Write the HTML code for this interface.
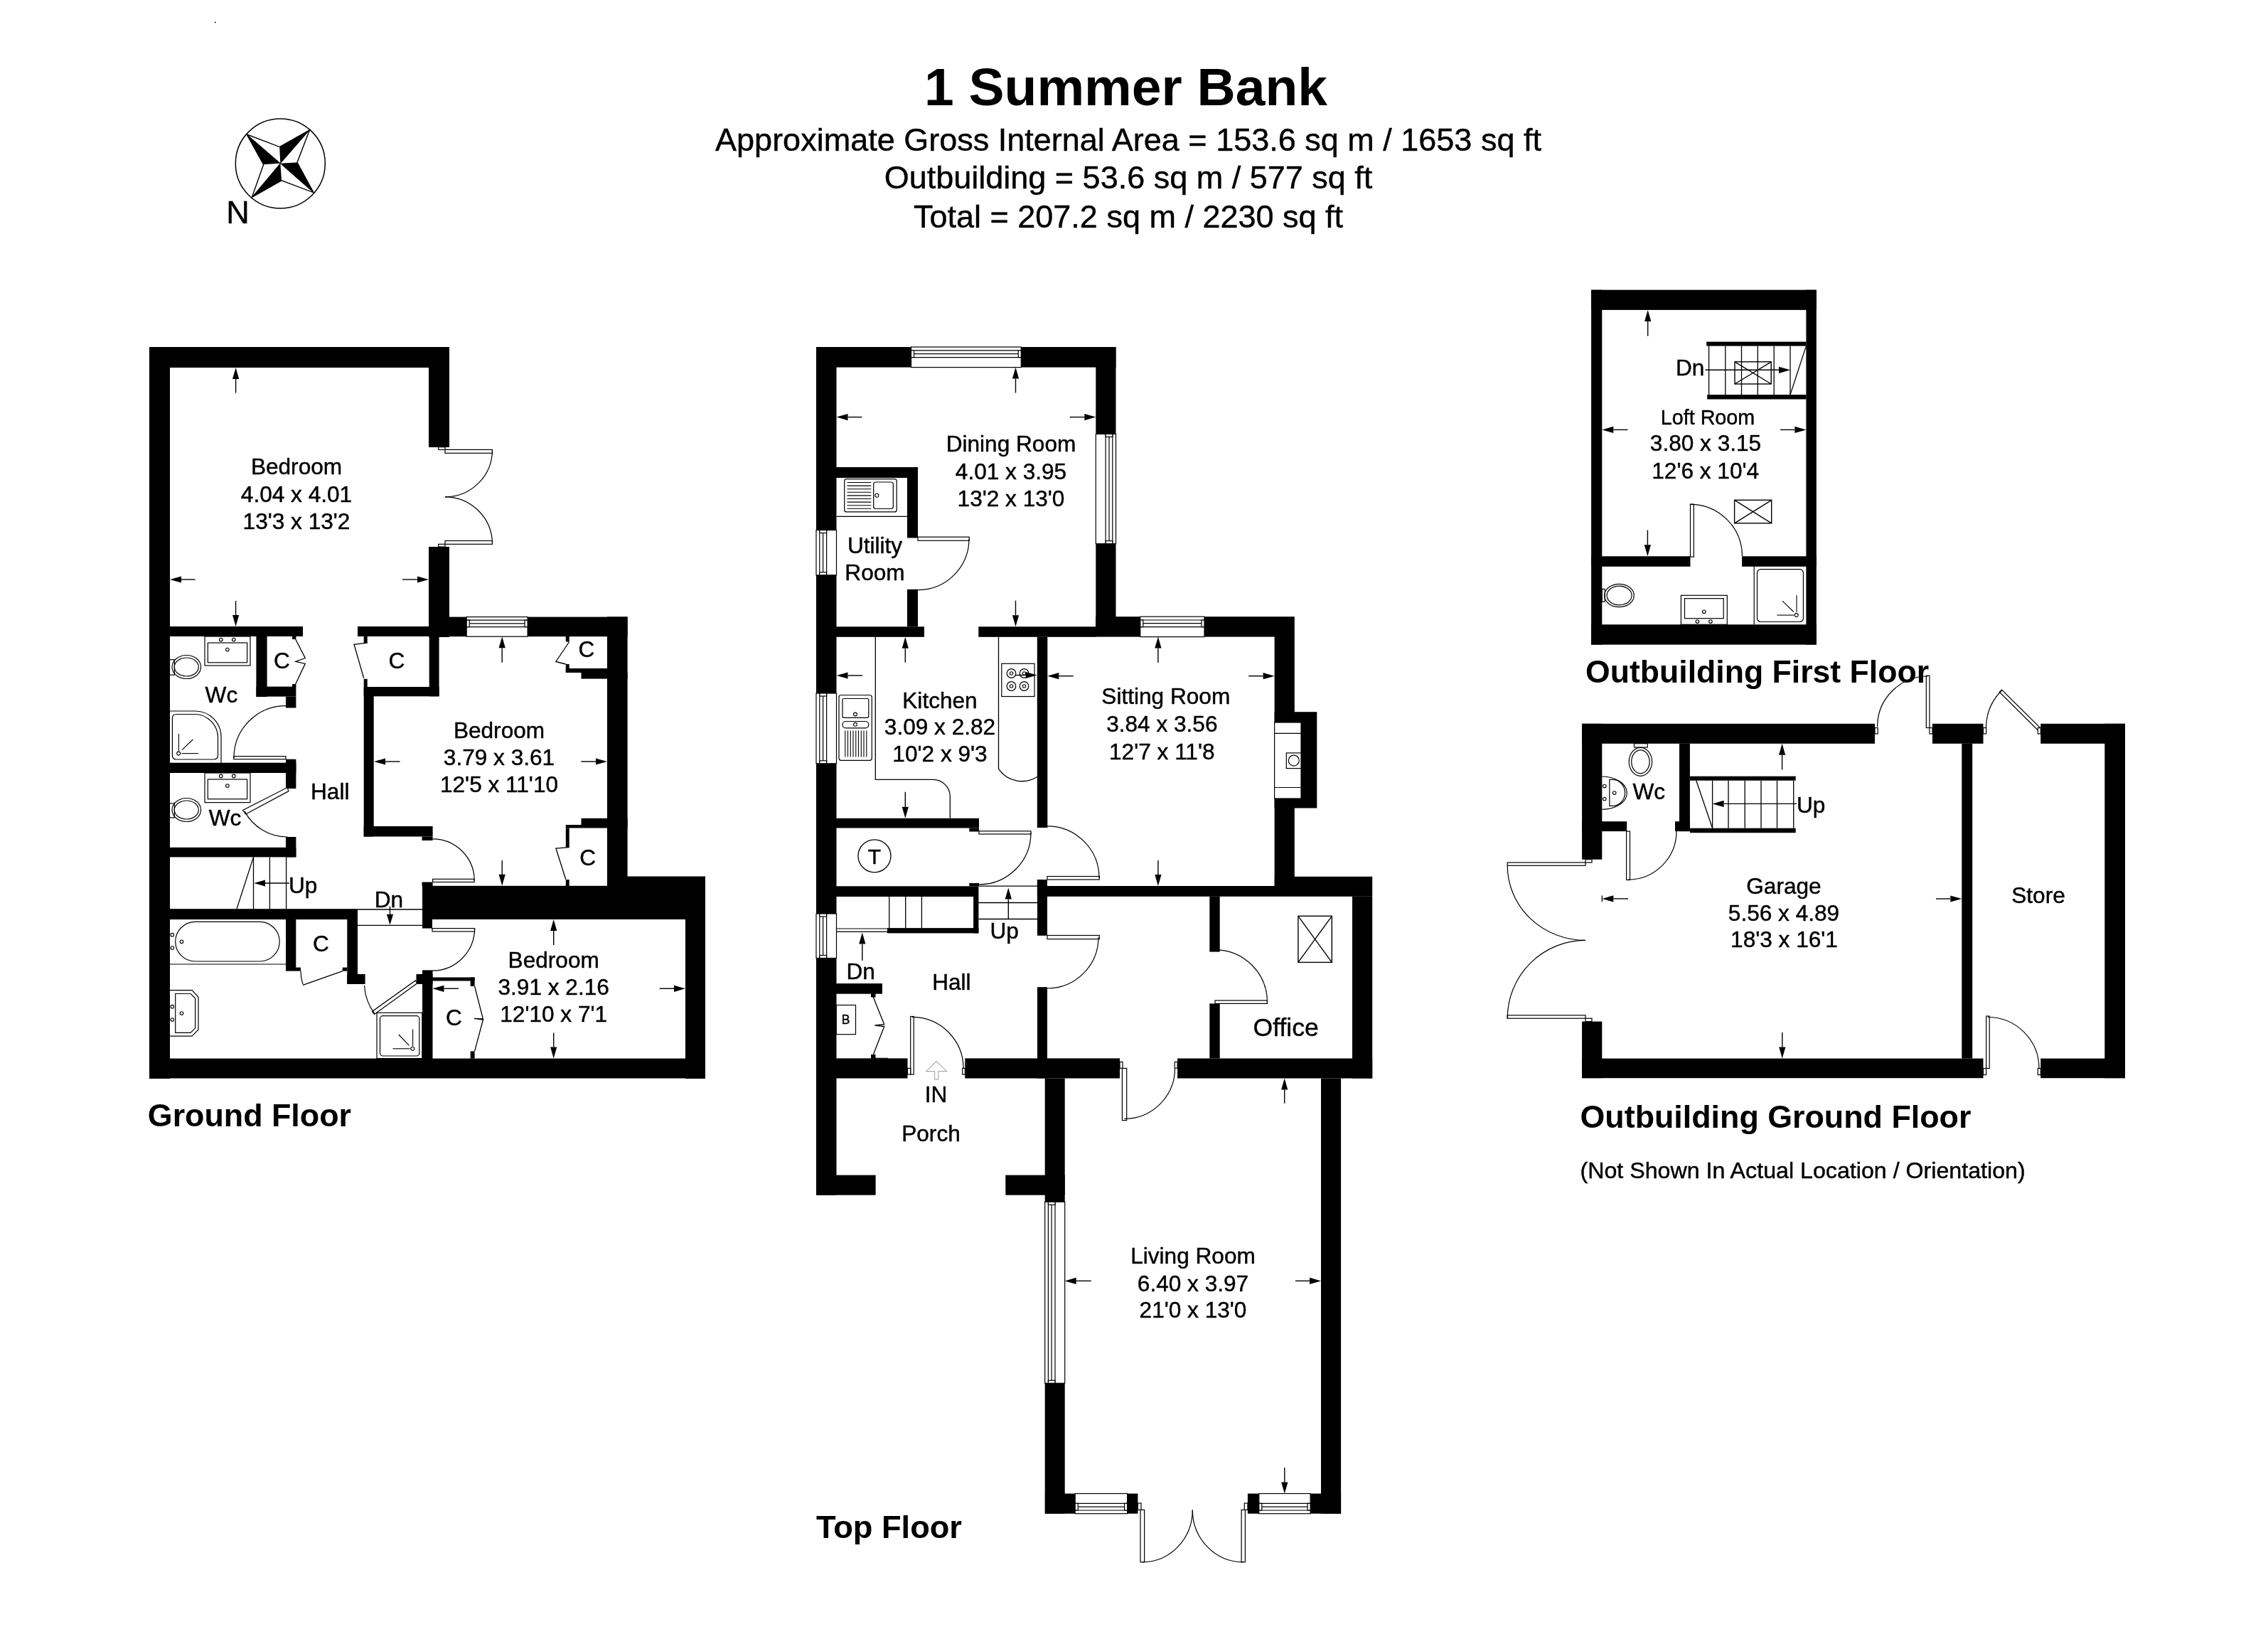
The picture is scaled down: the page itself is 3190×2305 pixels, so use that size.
<!DOCTYPE html>
<html><head><meta charset="utf-8"><title>1 Summer Bank</title>
<style>
html,body{margin:0;padding:0;background:#fff;width:3190px;height:2305px;overflow:hidden}
svg{display:block;will-change:transform}
text{font-family:"Liberation Sans",sans-serif}
</style></head><body>
<svg width="3190" height="2305" viewBox="0 0 3190 2305">
<rect x="0" y="0" width="3190" height="2305" fill="#fff"/>
<text x="1583.5" y="148" font-size="75" text-anchor="middle" font-weight="bold" fill="#000">1 Summer Bank</text>
<text x="1587" y="212" font-size="45" text-anchor="middle" stroke="#000" stroke-width="0.45" fill="#000">Approximate Gross Internal Area = 153.6 sq m / 1653 sq ft</text>
<text x="1587" y="265" font-size="45" text-anchor="middle" stroke="#000" stroke-width="0.45" fill="#000">Outbuilding = 53.6 sq m / 577 sq ft</text>
<text x="1587" y="320" font-size="45" text-anchor="middle" stroke="#000" stroke-width="0.45" fill="#000">Total = 207.2 sq m / 2230 sq ft</text>
<rect x="302" y="30.5" width="1.5" height="1.8" fill="#000"/>
<circle cx="394.3" cy="229.9" r="63" fill="none" stroke="#000" stroke-width="1.5"/>
<path d="M347.1,189 L394.3,229.8 L370.7,231.3 Z" fill="#000"/>
<path d="M435.5,182.7 L393.2,206.6 L394.3,229.8 Z" fill="#000"/>
<path d="M441,270.8 L418,228.5 L394.3,229.8 Z" fill="#000"/>
<path d="M354.3,277.4 L396,253.8 L394.3,229.8 Z" fill="#000"/>
<path d="M347.1,189 L393.2,206.6 L435.5,182.7 L418,228.5 L441,270.8 L396,253.8 L354.3,277.4 L370.7,231.3 Z" fill="none" stroke="#000" stroke-width="1.4"/>
<line x1="347.1" y1="189" x2="394.3" y2="229.8" stroke="#000" stroke-width="1"/>
<line x1="435.5" y1="182.7" x2="394.3" y2="229.8" stroke="#000" stroke-width="1"/>
<line x1="441" y1="270.8" x2="394.3" y2="229.8" stroke="#000" stroke-width="1"/>
<line x1="354.3" y1="277.4" x2="394.3" y2="229.8" stroke="#000" stroke-width="1"/>
<text x="318.3" y="313.6" font-size="45" text-anchor="start" stroke="#000" stroke-width="0.45" fill="#000">N</text>
<rect x="210" y="488" width="422" height="29" fill="#000"/>
<rect x="210" y="488" width="29" height="1029" fill="#000"/>
<rect x="603" y="488" width="29" height="141" fill="#000"/>
<rect x="603" y="769" width="29" height="127" fill="#000"/>
<rect x="210" y="881" width="216" height="14" fill="#000"/>
<rect x="503" y="881" width="154" height="14" fill="#000"/>
<rect x="603" y="867.6" width="279.6" height="27.6" fill="#000"/>
<rect x="656.2" y="867.6" width="85.9" height="27.6" fill="#fff"/>
<rect x="656.2" y="867.6" width="85.9" height="27.6" fill="#fff" stroke="#000" stroke-width="1.2"/>
<line x1="656.2" y1="872.2" x2="742.1" y2="872.2" stroke="#000" stroke-width="1.2"/>
<line x1="660.2" y1="876.9" x2="738.1" y2="876.9" stroke="#000" stroke-width="1.2"/>
<line x1="656.2" y1="881.7" x2="742.1" y2="881.7" stroke="#000" stroke-width="1.2"/>
<rect x="656.2" y="872.2" width="4" height="9.5" fill="#fff" stroke="#000" stroke-width="1.2"/>
<rect x="738.1" y="872.2" width="4" height="9.5" fill="#fff" stroke="#000" stroke-width="1.2"/>
<rect x="854" y="867.4" width="28.6" height="378.6" fill="#000"/>
<rect x="594" y="1245.8" width="398" height="47.2" fill="#000"/>
<rect x="854" y="1232.5" width="138" height="13.5" fill="#000"/>
<rect x="964" y="1293" width="28" height="224" fill="#000"/>
<rect x="210" y="1488.6" width="782" height="27.9" fill="#000"/>
<rect x="360.4" y="895" width="15.2" height="85" fill="#000"/>
<rect x="360.4" y="965.6" width="56" height="14" fill="#000"/>
<rect x="411" y="895" width="5.4" height="4" fill="#000"/>
<rect x="411" y="962" width="5.4" height="4" fill="#000"/>
<rect x="402" y="979.6" width="14.4" height="15.9" fill="#000"/>
<rect x="402" y="1067.7" width="14.4" height="41.3" fill="#000"/>
<rect x="210" y="1072.7" width="206.4" height="14.3" fill="#000"/>
<rect x="402" y="1177" width="14.4" height="28.4" fill="#000"/>
<rect x="210" y="1191.8" width="206.4" height="13.6" fill="#000"/>
<rect x="210" y="1278.2" width="293" height="14.9" fill="#000"/>
<rect x="402" y="1293" width="14.3" height="72.6" fill="#000"/>
<rect x="416" y="1360.6" width="7" height="5" fill="#000"/>
<rect x="488.3" y="1293" width="14.7" height="91" fill="#000"/>
<rect x="488.3" y="1370" width="25.3" height="14" fill="#000"/>
<rect x="481.7" y="1360.6" width="6.6" height="5" fill="#000"/>
<rect x="511.7" y="895" width="5" height="9" fill="#000"/>
<rect x="511.7" y="954.8" width="5" height="11.2" fill="#000"/>
<rect x="511.7" y="966" width="14" height="210.5" fill="#000"/>
<rect x="511.7" y="966" width="105.9" height="13.3" fill="#000"/>
<rect x="603.7" y="895" width="13.9" height="84.3" fill="#000"/>
<rect x="511.7" y="1162" width="96.9" height="14.5" fill="#000"/>
<rect x="593.5" y="1176.5" width="15.1" height="5.5" fill="#000"/>
<rect x="593.5" y="1240.5" width="15.1" height="5.5" fill="#000"/>
<rect x="594" y="1292.8" width="14" height="12.8" fill="#000"/>
<rect x="594" y="1364.4" width="14.5" height="124.6" fill="#000"/>
<rect x="585.5" y="1370" width="23" height="14" fill="#000"/>
<rect x="594" y="1374.5" width="73.6" height="5" fill="#000"/>
<rect x="661.7" y="1374.5" width="5.9" height="12.5" fill="#000"/>
<rect x="661.7" y="1478.4" width="5.9" height="10.2" fill="#000"/>
<rect x="795.8" y="940" width="58.2" height="6" fill="#000"/>
<rect x="817.5" y="945.4" width="65.1" height="9.2" fill="#000"/>
<rect x="795.8" y="934" width="4.9" height="12" fill="#000"/>
<rect x="795.8" y="895" width="4.9" height="7.5" fill="#000"/>
<rect x="817.5" y="1150.8" width="65.1" height="9.2" fill="#000"/>
<rect x="795.8" y="1160" width="86.8" height="4.5" fill="#000"/>
<rect x="795.8" y="1164.5" width="4.9" height="27.2" fill="#000"/>
<rect x="795.8" y="1237" width="4.9" height="9" fill="#000"/>
<line x1="356.5" y1="1205.4" x2="356.5" y2="1278.2" stroke="#000" stroke-width="1.3"/>
<line x1="379.4" y1="1205.4" x2="379.4" y2="1278.2" stroke="#000" stroke-width="1.3"/>
<line x1="402.6" y1="1205.4" x2="402.6" y2="1278.2" stroke="#000" stroke-width="1.3"/>
<line x1="356.5" y1="1205.4" x2="333" y2="1278.2" stroke="#000" stroke-width="1.3"/>
<line x1="407" y1="1242" x2="373" y2="1242" stroke="#000" stroke-width="1.4"/>
<path d="M357,1242 L373,1237.4 L373,1246.6 Z" fill="#000"/>
<text x="406" y="1255.8" font-size="31.6" text-anchor="start" stroke="#000" stroke-width="0.45" fill="#000">Up</text>
<line x1="503" y1="1279" x2="594" y2="1279" stroke="#000" stroke-width="1.3"/>
<line x1="503" y1="1301.3" x2="594" y2="1301.3" stroke="#000" stroke-width="1.3"/>
<line x1="548.5" y1="1274.5" x2="548.5" y2="1285.8" stroke="#000" stroke-width="1.4"/>
<path d="M548.5,1300.8 L543.9,1285.8 L553.1,1285.8 Z" fill="#000"/>
<text x="526.8" y="1275.6" font-size="31.6" text-anchor="start" stroke="#000" stroke-width="0.45" fill="#000">Dn</text>
<rect x="616.7" y="628.7" width="9.3" height="3.7" fill="#fff" stroke="#000" stroke-width="1.2"/>
<rect x="626" y="632.4" width="66.5" height="4.9" fill="#fff" stroke="#000" stroke-width="1.2"/>
<path d="M692.5,632.4 A66.5,66.5 0 0 1 626,698.9" fill="none" stroke="#000" stroke-width="1.2"/>
<rect x="626" y="760.5" width="66.5" height="4.8" fill="#fff" stroke="#000" stroke-width="1.2"/>
<rect x="616.7" y="765.3" width="9.3" height="3.7" fill="#fff" stroke="#000" stroke-width="1.2"/>
<path d="M692.5,765.3 A66.5,66.5 0 0 0 626,698.8" fill="none" stroke="#000" stroke-width="1.2"/>
<rect x="328.8" y="1063.6" width="73.2" height="4.1" fill="#fff" stroke="#000" stroke-width="1.2"/>
<path d="M329,1065.6 A73,73 0 0 1 402,992.6" fill="none" stroke="#000" stroke-width="1.2"/>
<path d="M404,1107.5 L406,1112.6 L345.5,1145 L341.5,1139.5 Z" fill="#fff" stroke="#000" stroke-width="1.2"/>
<path d="M344,1140.9 A68,68 0 0 0 404,1177" fill="none" stroke="#000" stroke-width="1.2"/>
<path d="M415.7,899 L429.3,925.5 L415.7,930.4 L429.3,933.4 L415.7,962" fill="none" stroke="#000" stroke-width="1.3"/>
<path d="M516.7,904 L498,906.3 L511.7,953.7" fill="none" stroke="#000" stroke-width="1.3"/>
<rect x="608.6" y="1236.3" width="58.6" height="4.2" fill="#fff" stroke="#000" stroke-width="1.2"/>
<path d="M667.2,1238.4 A58.6,58.6 0 0 0 608.6,1179.8" fill="none" stroke="#000" stroke-width="1.2"/>
<rect x="608" y="1305.6" width="59.6" height="4.4" fill="#fff" stroke="#000" stroke-width="1.2"/>
<path d="M667.6,1305.6 A59.6,59.6 0 0 1 608,1365.2" fill="none" stroke="#000" stroke-width="1.2"/>
<path d="M423,1365.6 A59,59 0 0 0 426,1384.3" fill="none" stroke="#000" stroke-width="1.2"/>
<line x1="426" y1="1385.4" x2="482" y2="1365.6" stroke="#000" stroke-width="1.4"/>
<path d="M584.3,1379 L586.5,1383 L526.5,1426.5 L523.5,1422.5 Z" fill="#fff" stroke="#000" stroke-width="1.2"/>
<path d="M512.5,1385.8 A73,73 0 0 0 527.1,1425.9" fill="none" stroke="#000" stroke-width="1.2"/>
<path d="M667.6,1387 L679.4,1433 L667,1432.4 L679.4,1434.2 L667.6,1478.4" fill="none" stroke="#000" stroke-width="1.3"/>
<path d="M800.7,902.5 L781.9,930.5 L795.8,934" fill="none" stroke="#000" stroke-width="1.3"/>
<path d="M800.7,1191.7 L781.9,1193 L795.8,1236.8" fill="none" stroke="#000" stroke-width="1.3"/>
<rect x="288" y="895" width="64" height="41" fill="#fff" stroke="#000" stroke-width="1.2"/>
<rect x="292.3" y="904" width="55.3" height="27.8" fill="#fff" stroke="#000" stroke-width="1.2"/>
<circle cx="310.8" cy="899.5" r="2.3" fill="none" stroke="#000" stroke-width="1.1"/>
<circle cx="328.8" cy="899.5" r="2.3" fill="none" stroke="#000" stroke-width="1.1"/>
<circle cx="319.8" cy="913.5" r="2.3" fill="none" stroke="#000" stroke-width="1.1"/>
<rect x="238.5" y="927.7" width="6.8" height="21.5" fill="#fff" stroke="#000" stroke-width="1.2"/>
<ellipse cx="262.3" cy="938" rx="20.3" ry="16.5" fill="none" stroke="#000" stroke-width="1.2"/>
<ellipse cx="262.3" cy="938" rx="17" ry="13" fill="none" stroke="#000" stroke-width="1.2"/>
<rect x="288" y="1087" width="64" height="41.6" fill="#fff" stroke="#000" stroke-width="1.2"/>
<rect x="292.3" y="1096" width="55.3" height="27.7" fill="#fff" stroke="#000" stroke-width="1.2"/>
<circle cx="310.8" cy="1091.4" r="2.3" fill="none" stroke="#000" stroke-width="1.1"/>
<circle cx="328.8" cy="1091.4" r="2.3" fill="none" stroke="#000" stroke-width="1.1"/>
<circle cx="319.8" cy="1105" r="2.3" fill="none" stroke="#000" stroke-width="1.1"/>
<rect x="238.5" y="1129.8" width="6.8" height="20.2" fill="#fff" stroke="#000" stroke-width="1.2"/>
<ellipse cx="262.3" cy="1139" rx="20.3" ry="16.5" fill="none" stroke="#000" stroke-width="1.2"/>
<ellipse cx="262.3" cy="1139" rx="17" ry="13" fill="none" stroke="#000" stroke-width="1.2"/>
<path d="M238.5,1000 H274.7 A36.3,36.3 0 0 1 311,1036.3 V1072.7" fill="none" stroke="#000" stroke-width="1.2"/>
<path d="M248,1004.5 H273.5 A33,33 0 0 1 306.5,1037.5 V1062 Q306.5,1068 300.5,1068 H248 Q242.4,1068 242.4,1062 V1010 Q242.4,1004.5 248,1004.5 Z" fill="none" stroke="#000" stroke-width="1.2"/>
<circle cx="251.2" cy="1059.6" r="2.5" fill="none" stroke="#000" stroke-width="1.1"/>
<line x1="251.4" y1="1032" x2="251.4" y2="1056.4" stroke="#000" stroke-width="1.1"/>
<line x1="255.5" y1="1059.6" x2="279.2" y2="1059.6" stroke="#000" stroke-width="1.1"/>
<line x1="256" y1="1054.6" x2="271.3" y2="1040" stroke="#000" stroke-width="1.1"/>
<rect x="246.7" y="1296.4" width="146.5" height="55.6" rx="28" fill="#fff" stroke="#000" stroke-width="1.2"/>
<line x1="238.5" y1="1356" x2="402" y2="1356" stroke="#000" stroke-width="1.2"/>
<circle cx="242.3" cy="1314.7" r="2.3" fill="none" stroke="#000" stroke-width="1.1"/>
<circle cx="242.3" cy="1333" r="2.3" fill="none" stroke="#000" stroke-width="1.1"/>
<circle cx="255.5" cy="1324.3" r="2.3" fill="none" stroke="#000" stroke-width="1.1"/>
<path d="M238.8,1392.6 L270,1392.6 L279,1402.3 L279,1448 L270,1457.2 L238.8,1457.2" fill="none" stroke="#000" stroke-width="1.2"/>
<path d="M246.7,1397.5 L268,1397.5 L274.6,1404 L274.6,1445.8 L268,1452.4 L246.7,1452.4 Z" fill="none" stroke="#000" stroke-width="1.2"/>
<circle cx="242.3" cy="1415.7" r="2.3" fill="none" stroke="#000" stroke-width="1.1"/>
<circle cx="242.3" cy="1434" r="2.3" fill="none" stroke="#000" stroke-width="1.1"/>
<circle cx="255.5" cy="1425" r="2.3" fill="none" stroke="#000" stroke-width="1.1"/>
<rect x="530" y="1424.3" width="63.8" height="64.3" fill="#fff" stroke="#000" stroke-width="1.2"/>
<rect x="534.5" y="1428.7" width="55.3" height="56.3" rx="4" fill="#fff" stroke="#000" stroke-width="1.2"/>
<circle cx="580.3" cy="1474.8" r="2.5" fill="none" stroke="#000" stroke-width="1.1"/>
<line x1="580.6" y1="1447.6" x2="580.6" y2="1471" stroke="#000" stroke-width="1.1"/>
<line x1="552.5" y1="1474.8" x2="576.6" y2="1474.8" stroke="#000" stroke-width="1.1"/>
<line x1="560.8" y1="1455" x2="575.5" y2="1470.4" stroke="#000" stroke-width="1.1"/>
<line x1="331.6" y1="552.6" x2="331.6" y2="533" stroke="#000" stroke-width="1.4"/>
<path d="M331.6,517 L336.2,533 L327,533 Z" fill="#000"/>
<line x1="274.5" y1="815" x2="255" y2="815" stroke="#000" stroke-width="1.4"/>
<path d="M239,815 L255,810.4 L255,819.6 Z" fill="#000"/>
<line x1="566" y1="815" x2="587" y2="815" stroke="#000" stroke-width="1.4"/>
<path d="M603,815 L587,819.6 L587,810.4 Z" fill="#000"/>
<line x1="331.6" y1="845" x2="331.6" y2="865" stroke="#000" stroke-width="1.4"/>
<path d="M331.6,881 L327,865 L336.2,865 Z" fill="#000"/>
<line x1="562.5" y1="1071" x2="542" y2="1071" stroke="#000" stroke-width="1.4"/>
<path d="M526,1071 L542,1066.4 L542,1075.6 Z" fill="#000"/>
<line x1="817.3" y1="1071" x2="838" y2="1071" stroke="#000" stroke-width="1.4"/>
<path d="M854,1071 L838,1075.6 L838,1066.4 Z" fill="#000"/>
<line x1="706.2" y1="931.8" x2="706.2" y2="911.2" stroke="#000" stroke-width="1.4"/>
<path d="M706.2,895.2 L710.8,911.2 L701.6,911.2 Z" fill="#000"/>
<line x1="706.2" y1="1210" x2="706.2" y2="1229.8" stroke="#000" stroke-width="1.4"/>
<path d="M706.2,1245.8 L701.6,1229.8 L710.8,1229.8 Z" fill="#000"/>
<line x1="778.7" y1="1329" x2="778.7" y2="1309" stroke="#000" stroke-width="1.4"/>
<path d="M778.7,1293 L783.3,1309 L774.1,1309 Z" fill="#000"/>
<line x1="778.7" y1="1452.4" x2="778.7" y2="1472.6" stroke="#000" stroke-width="1.4"/>
<path d="M778.7,1488.6 L774.1,1472.6 L783.3,1472.6 Z" fill="#000"/>
<line x1="645" y1="1390.3" x2="624.5" y2="1390.3" stroke="#000" stroke-width="1.4"/>
<path d="M608.5,1390.3 L624.5,1385.7 L624.5,1394.9 Z" fill="#000"/>
<line x1="927.7" y1="1390.3" x2="948" y2="1390.3" stroke="#000" stroke-width="1.4"/>
<path d="M964,1390.3 L948,1394.9 L948,1385.7 Z" fill="#000"/>
<text x="417" y="667" font-size="31.6" text-anchor="middle" stroke="#000" stroke-width="0.45" fill="#000">Bedroom</text>
<text x="417" y="705.6" font-size="31.6" text-anchor="middle" stroke="#000" stroke-width="0.45" fill="#000">4.04 x 4.01</text>
<text x="417" y="744" font-size="31.6" text-anchor="middle" stroke="#000" stroke-width="0.45" fill="#000">13'3 x 13'2</text>
<text x="288.6" y="987.5" font-size="31.6" text-anchor="start" stroke="#000" stroke-width="0.45" fill="#000">Wc</text>
<text x="293.8" y="1161.4" font-size="31.6" text-anchor="start" stroke="#000" stroke-width="0.45" fill="#000">Wc</text>
<text x="384.9" y="940" font-size="31.6" text-anchor="start" stroke="#000" stroke-width="0.45" fill="#000">C</text>
<text x="546.5" y="940" font-size="31.6" text-anchor="start" stroke="#000" stroke-width="0.45" fill="#000">C</text>
<text x="440" y="1337.7" font-size="31.6" text-anchor="start" stroke="#000" stroke-width="0.45" fill="#000">C</text>
<text x="627" y="1442.3" font-size="31.6" text-anchor="start" stroke="#000" stroke-width="0.45" fill="#000">C</text>
<text x="813.5" y="924" font-size="31.6" text-anchor="start" stroke="#000" stroke-width="0.45" fill="#000">C</text>
<text x="815.2" y="1217.3" font-size="31.6" text-anchor="start" stroke="#000" stroke-width="0.45" fill="#000">C</text>
<text x="437" y="1124" font-size="31.6" text-anchor="start" stroke="#000" stroke-width="0.45" fill="#000">Hall</text>
<text x="702" y="1038.4" font-size="31.6" text-anchor="middle" stroke="#000" stroke-width="0.45" fill="#000">Bedroom</text>
<text x="702" y="1075.7" font-size="31.6" text-anchor="middle" stroke="#000" stroke-width="0.45" fill="#000">3.79 x 3.61</text>
<text x="702" y="1113.6" font-size="31.6" text-anchor="middle" stroke="#000" stroke-width="0.45" fill="#000">12'5 x 11'10</text>
<text x="778.7" y="1360.5" font-size="31.6" text-anchor="middle" stroke="#000" stroke-width="0.45" fill="#000">Bedroom</text>
<text x="778.7" y="1399" font-size="31.6" text-anchor="middle" stroke="#000" stroke-width="0.45" fill="#000">3.91 x 2.16</text>
<text x="778.7" y="1437.3" font-size="31.6" text-anchor="middle" stroke="#000" stroke-width="0.45" fill="#000">12'10 x 7'1</text>
<text x="207.8" y="1583.8" font-size="44.8" text-anchor="start" font-weight="bold" fill="#000">Ground Floor</text>
<rect x="1148" y="488" width="421.5" height="28.6" fill="#000"/>
<rect x="1281.5" y="488" width="154.8" height="28.6" fill="#fff"/>
<rect x="1281.5" y="488" width="154.8" height="28.6" fill="#fff" stroke="#000" stroke-width="1.2"/>
<line x1="1281.5" y1="492.8" x2="1436.3" y2="492.8" stroke="#000" stroke-width="1.2"/>
<line x1="1285.5" y1="497.6" x2="1432.3" y2="497.6" stroke="#000" stroke-width="1.2"/>
<line x1="1281.5" y1="502.6" x2="1436.3" y2="502.6" stroke="#000" stroke-width="1.2"/>
<rect x="1281.5" y="492.8" width="4" height="9.8" fill="#fff" stroke="#000" stroke-width="1.2"/>
<rect x="1432.3" y="492.8" width="4" height="9.8" fill="#fff" stroke="#000" stroke-width="1.2"/>
<rect x="1148" y="488" width="28.5" height="1192.7" fill="#000"/>
<rect x="1541.3" y="488" width="28.2" height="393.3" fill="#000"/>
<rect x="1541" y="867.2" width="279.8" height="28.4" fill="#000"/>
<rect x="1603.8" y="867.2" width="90.2" height="28.4" fill="#fff"/>
<rect x="1603.8" y="867.2" width="90.2" height="28.4" fill="#fff" stroke="#000" stroke-width="1.2"/>
<line x1="1603.8" y1="872" x2="1694" y2="872" stroke="#000" stroke-width="1.2"/>
<line x1="1607.8" y1="876.7" x2="1690" y2="876.7" stroke="#000" stroke-width="1.2"/>
<line x1="1603.8" y1="881.7" x2="1694" y2="881.7" stroke="#000" stroke-width="1.2"/>
<rect x="1603.8" y="872" width="4" height="9.7" fill="#fff" stroke="#000" stroke-width="1.2"/>
<rect x="1690" y="872" width="4" height="9.7" fill="#fff" stroke="#000" stroke-width="1.2"/>
<rect x="1148" y="881.3" width="152" height="14.5" fill="#000"/>
<rect x="1376.3" y="881.3" width="165" height="14.5" fill="#000"/>
<rect x="1148" y="657" width="143" height="15" fill="#000"/>
<rect x="1276" y="657" width="15" height="99.5" fill="#000"/>
<rect x="1276" y="828.8" width="15" height="52.5" fill="#000"/>
<rect x="1458.8" y="895.8" width="14.5" height="268.2" fill="#000"/>
<rect x="1792.6" y="895" width="28.2" height="351" fill="#000"/>
<rect x="1792.6" y="1001.2" width="59.7" height="135.3" fill="#000"/>
<rect x="1792.6" y="1016" width="37.4" height="107" fill="#fff"/>
<rect x="1792.6" y="1016" width="37.4" height="107" fill="#fff" stroke="#000" stroke-width="1.2"/>
<line x1="1792.6" y1="1031.4" x2="1830" y2="1031.4" stroke="#000" stroke-width="1.2"/>
<line x1="1792.6" y1="1107.5" x2="1830" y2="1107.5" stroke="#000" stroke-width="1.2"/>
<rect x="1809.3" y="1058.9" width="20.7" height="21.7" fill="#fff" stroke="#000" stroke-width="1.2"/>
<circle cx="1819.8" cy="1069.6" r="7.5" fill="none" stroke="#000" stroke-width="1.2"/>
<rect x="1792.8" y="1232.8" width="137.4" height="13.2" fill="#000"/>
<rect x="1458.8" y="1246" width="471.4" height="14.8" fill="#000"/>
<rect x="1148" y="1150.8" width="229" height="13.7" fill="#000"/>
<rect x="1363.3" y="1164.5" width="13.7" height="5" fill="#000"/>
<rect x="1363.3" y="1242" width="13.7" height="4.3" fill="#000"/>
<rect x="1148" y="1246.3" width="228.4" height="14.7" fill="#000"/>
<rect x="1369.1" y="1261" width="7.3" height="51.4" fill="#000"/>
<rect x="1247.9" y="1305.1" width="128.5" height="7.3" fill="#000"/>
<rect x="1458.8" y="1237" width="14.2" height="9" fill="#000"/>
<rect x="1459" y="1246" width="14" height="69.8" fill="#000"/>
<rect x="1459" y="1388.2" width="14" height="128.3" fill="#000"/>
<rect x="1148" y="1383.1" width="92.9" height="14.6" fill="#000"/>
<rect x="1148" y="1488.4" width="128.5" height="28.1" fill="#000"/>
<rect x="1357.3" y="1488.4" width="217.7" height="28.1" fill="#000"/>
<rect x="1656.1" y="1488.5" width="274.1" height="28" fill="#000"/>
<rect x="1902" y="1260.8" width="28.2" height="255.7" fill="#000"/>
<rect x="1701.3" y="1260.8" width="14.4" height="77.8" fill="#000"/>
<rect x="1701.3" y="1411.4" width="14.4" height="77.1" fill="#000"/>
<rect x="1469.7" y="1516.5" width="28" height="612.2" fill="#000"/>
<rect x="1148" y="1652.6" width="83.6" height="28.1" fill="#000"/>
<rect x="1414.3" y="1652.6" width="83.4" height="28.1" fill="#000"/>
<rect x="1858" y="1516.5" width="28.1" height="612.2" fill="#000"/>
<rect x="1469.9" y="2100.5" width="130.5" height="28.2" fill="#000"/>
<rect x="1754.9" y="2100.5" width="131.2" height="28.2" fill="#000"/>
<rect x="1148" y="745.5" width="28.5" height="63.3" fill="#fff"/>
<rect x="1148" y="745.5" width="28.5" height="63.3" fill="#fff" stroke="#000" stroke-width="1.2"/>
<line x1="1152.8" y1="745.5" x2="1152.8" y2="808.8" stroke="#000" stroke-width="1.2"/>
<line x1="1157.6" y1="749.5" x2="1157.6" y2="804.8" stroke="#000" stroke-width="1.2"/>
<line x1="1162.6" y1="745.5" x2="1162.6" y2="808.8" stroke="#000" stroke-width="1.2"/>
<rect x="1152.8" y="745.5" width="9.8" height="4" fill="#fff" stroke="#000" stroke-width="1.2"/>
<rect x="1152.8" y="804.8" width="9.8" height="4" fill="#fff" stroke="#000" stroke-width="1.2"/>
<rect x="1148" y="975" width="28.5" height="98.8" fill="#fff"/>
<rect x="1148" y="975" width="28.5" height="98.8" fill="#fff" stroke="#000" stroke-width="1.2"/>
<line x1="1152.8" y1="975" x2="1152.8" y2="1073.8" stroke="#000" stroke-width="1.2"/>
<line x1="1157.6" y1="979" x2="1157.6" y2="1069.8" stroke="#000" stroke-width="1.2"/>
<line x1="1162.6" y1="975" x2="1162.6" y2="1073.8" stroke="#000" stroke-width="1.2"/>
<rect x="1152.8" y="975" width="9.8" height="4" fill="#fff" stroke="#000" stroke-width="1.2"/>
<rect x="1152.8" y="1069.8" width="9.8" height="4" fill="#fff" stroke="#000" stroke-width="1.2"/>
<rect x="1148" y="1285" width="28.5" height="62.5" fill="#fff"/>
<rect x="1148" y="1285" width="28.5" height="62.5" fill="#fff" stroke="#000" stroke-width="1.2"/>
<line x1="1152.8" y1="1285" x2="1152.8" y2="1347.5" stroke="#000" stroke-width="1.2"/>
<line x1="1157.6" y1="1289" x2="1157.6" y2="1343.5" stroke="#000" stroke-width="1.2"/>
<line x1="1162.6" y1="1285" x2="1162.6" y2="1347.5" stroke="#000" stroke-width="1.2"/>
<rect x="1152.8" y="1285" width="9.8" height="4" fill="#fff" stroke="#000" stroke-width="1.2"/>
<rect x="1152.8" y="1343.5" width="9.8" height="4" fill="#fff" stroke="#000" stroke-width="1.2"/>
<rect x="1541.3" y="610.4" width="28.2" height="154.3" fill="#fff"/>
<rect x="1541.3" y="610.4" width="28.2" height="154.3" fill="#fff" stroke="#000" stroke-width="1.2"/>
<line x1="1564.8" y1="610.4" x2="1564.8" y2="764.7" stroke="#000" stroke-width="1.2"/>
<line x1="1560" y1="614.4" x2="1560" y2="760.7" stroke="#000" stroke-width="1.2"/>
<line x1="1555.1" y1="610.4" x2="1555.1" y2="764.7" stroke="#000" stroke-width="1.2"/>
<rect x="1555.1" y="610.4" width="9.7" height="4" fill="#fff" stroke="#000" stroke-width="1.2"/>
<rect x="1555.1" y="760.7" width="9.7" height="4" fill="#fff" stroke="#000" stroke-width="1.2"/>
<rect x="1469.7" y="1690.3" width="28" height="255" fill="#fff"/>
<rect x="1469.7" y="1690.3" width="28" height="255" fill="#fff" stroke="#000" stroke-width="1.2"/>
<line x1="1474.4" y1="1690.3" x2="1474.4" y2="1945.3" stroke="#000" stroke-width="1.2"/>
<line x1="1479.1" y1="1694.3" x2="1479.1" y2="1941.3" stroke="#000" stroke-width="1.2"/>
<line x1="1484" y1="1690.3" x2="1484" y2="1945.3" stroke="#000" stroke-width="1.2"/>
<rect x="1474.4" y="1690.3" width="9.6" height="4" fill="#fff" stroke="#000" stroke-width="1.2"/>
<rect x="1474.4" y="1941.3" width="9.6" height="4" fill="#fff" stroke="#000" stroke-width="1.2"/>
<rect x="1512.2" y="2100.5" width="73.4" height="28.2" fill="#fff"/>
<rect x="1512.2" y="2100.5" width="73.4" height="28.2" fill="#fff" stroke="#000" stroke-width="1.2"/>
<line x1="1512.2" y1="2124" x2="1585.6" y2="2124" stroke="#000" stroke-width="1.2"/>
<line x1="1516.2" y1="2119.2" x2="1581.6" y2="2119.2" stroke="#000" stroke-width="1.2"/>
<line x1="1512.2" y1="2114.3" x2="1585.6" y2="2114.3" stroke="#000" stroke-width="1.2"/>
<rect x="1512.2" y="2114.3" width="4" height="9.7" fill="#fff" stroke="#000" stroke-width="1.2"/>
<rect x="1581.6" y="2114.3" width="4" height="9.7" fill="#fff" stroke="#000" stroke-width="1.2"/>
<rect x="1770.8" y="2100.5" width="72.3" height="28.2" fill="#fff"/>
<rect x="1770.8" y="2100.5" width="72.3" height="28.2" fill="#fff" stroke="#000" stroke-width="1.2"/>
<line x1="1770.8" y1="2124" x2="1843.1" y2="2124" stroke="#000" stroke-width="1.2"/>
<line x1="1774.8" y1="2119.2" x2="1839.1" y2="2119.2" stroke="#000" stroke-width="1.2"/>
<line x1="1770.8" y1="2114.3" x2="1843.1" y2="2114.3" stroke="#000" stroke-width="1.2"/>
<rect x="1770.8" y="2114.3" width="4" height="9.7" fill="#fff" stroke="#000" stroke-width="1.2"/>
<rect x="1839.1" y="2114.3" width="4" height="9.7" fill="#fff" stroke="#000" stroke-width="1.2"/>
<rect x="1291" y="755.2" width="72.2" height="5.1" fill="#fff" stroke="#000" stroke-width="1.2"/>
<path d="M1363,757.7 A72,72 0 0 1 1291,829.7" fill="none" stroke="#000" stroke-width="1.2"/>
<rect x="1377" y="1168.8" width="73" height="4.2" fill="#fff" stroke="#000" stroke-width="1.2"/>
<path d="M1450,1170.9 A73,73 0 0 1 1377,1243.9" fill="none" stroke="#000" stroke-width="1.2"/>
<rect x="1473" y="1232.5" width="73.3" height="4.5" fill="#fff" stroke="#000" stroke-width="1.2"/>
<path d="M1546,1234.8 A73,73 0 0 0 1473,1161.8" fill="none" stroke="#000" stroke-width="1.2"/>
<rect x="1473" y="1315.5" width="73.3" height="5.1" fill="#fff" stroke="#000" stroke-width="1.2"/>
<path d="M1545,1318 A72,72 0 0 1 1473,1390" fill="none" stroke="#000" stroke-width="1.2"/>
<rect x="1280.7" y="1429.5" width="4.5" height="81.5" fill="#fff" stroke="#000" stroke-width="1.2"/>
<rect x="1276.5" y="1502.4" width="4.2" height="8.6" fill="#fff" stroke="#000" stroke-width="1.2"/>
<path d="M1283,1430.4 A72,72 0 0 1 1355,1502.4" fill="none" stroke="#000" stroke-width="1.2"/>
<rect x="1353.7" y="1502.4" width="3.6" height="8.6" fill="#fff" stroke="#000" stroke-width="1.2"/>
<rect x="1709" y="1407" width="73.4" height="4.4" fill="#fff" stroke="#000" stroke-width="1.2"/>
<path d="M1782.4,1409.2 A73.4,73.4 0 0 0 1709,1335.8" fill="none" stroke="#000" stroke-width="1.2"/>
<rect x="1578.4" y="1502.4" width="6.3" height="73.2" fill="#fff" stroke="#000" stroke-width="1.2"/>
<path d="M1652.5,1502.4 A71,71 0 0 1 1581.5,1573.4" fill="none" stroke="#000" stroke-width="1.2"/>
<rect x="1575" y="1493.4" width="4" height="9" fill="#fff" stroke="#000" stroke-width="1.2"/>
<rect x="1652.2" y="1493.4" width="3.9" height="8.8" fill="#fff" stroke="#000" stroke-width="1.2"/>
<rect x="1604" y="2123.4" width="5.6" height="73.4" fill="#fff" stroke="#000" stroke-width="1.2"/>
<rect x="1600.4" y="2114" width="4.6" height="9.4" fill="#fff" stroke="#000" stroke-width="1.2"/>
<path d="M1606.8,2196.8 A70.5,73.4 0 0 0 1677.3,2123.4" fill="none" stroke="#000" stroke-width="1.2"/>
<rect x="1746.1" y="2123.4" width="5.3" height="73.4" fill="#fff" stroke="#000" stroke-width="1.2"/>
<rect x="1750.3" y="2114" width="4.6" height="9.4" fill="#fff" stroke="#000" stroke-width="1.2"/>
<path d="M1748.7,2196.8 A71.4,73.4 0 0 1 1677.3,2123.4" fill="none" stroke="#000" stroke-width="1.2"/>
<rect x="1225.5" y="1397.7" width="5.5" height="4.3" fill="#fff" stroke="#000" stroke-width="1"/>
<rect x="1225.5" y="1483.6" width="5.5" height="4.8" fill="#fff" stroke="#000" stroke-width="1"/>
<rect x="1225.5" y="1397.7" width="5.5" height="4.3" fill="#000"/>
<rect x="1225.5" y="1483.6" width="5.5" height="4.8" fill="#000"/>
<path d="M1228.2,1402 L1243.7,1440.7 L1230.5,1442 L1243.7,1443.5 L1228.2,1483.6" fill="none" stroke="#000" stroke-width="1.3"/>
<line x1="1231" y1="1488.2" x2="1249" y2="1488.2" stroke="#000" stroke-width="1"/>
<line x1="1250.7" y1="1261" x2="1250.7" y2="1305.1" stroke="#000" stroke-width="1.3"/>
<line x1="1273.7" y1="1261" x2="1273.7" y2="1305.1" stroke="#000" stroke-width="1.3"/>
<line x1="1296.4" y1="1261" x2="1296.4" y2="1305.1" stroke="#000" stroke-width="1.3"/>
<line x1="1176.5" y1="1306" x2="1248" y2="1306" stroke="#000" stroke-width="1.2"/>
<line x1="1176.5" y1="1310.3" x2="1248" y2="1310.3" stroke="#000" stroke-width="1.2"/>
<line x1="1376.4" y1="1246.2" x2="1459" y2="1246.2" stroke="#000" stroke-width="1.3"/>
<line x1="1376.4" y1="1269.5" x2="1459" y2="1269.5" stroke="#000" stroke-width="1.3"/>
<line x1="1376.4" y1="1292.5" x2="1459" y2="1292.5" stroke="#000" stroke-width="1.3"/>
<line x1="1418.3" y1="1293" x2="1418.3" y2="1264.4" stroke="#000" stroke-width="1.4"/>
<path d="M1418.3,1248.4 L1422.9,1264.4 L1413.7,1264.4 Z" fill="#000"/>
<text x="1392.4" y="1320" font-size="31.6" text-anchor="start" stroke="#000" stroke-width="0.45" fill="#000">Up</text>
<line x1="1212.8" y1="1351" x2="1212.8" y2="1327.6" stroke="#000" stroke-width="1.4"/>
<path d="M1212.8,1311.6 L1217.4,1327.6 L1208.2,1327.6 Z" fill="#000"/>
<text x="1190.4" y="1376.7" font-size="31.6" text-anchor="start" stroke="#000" stroke-width="0.45" fill="#000">Dn</text>
<rect x="1187.7" y="673.7" width="73.5" height="46.2" rx="3" fill="#fff" stroke="#000" stroke-width="1.2"/>
<rect x="1228.7" y="678" width="27.6" height="37.5" rx="3" fill="#fff" stroke="#000" stroke-width="1.2"/>
<circle cx="1233.3" cy="696.8" r="2.5" fill="none" stroke="#000" stroke-width="1.1"/>
<line x1="1191.5" y1="678.5" x2="1225.3" y2="678.5" stroke="#000" stroke-width="1.1"/>
<line x1="1191.5" y1="683.1" x2="1225.3" y2="683.1" stroke="#000" stroke-width="1.1"/>
<line x1="1191.5" y1="687.7" x2="1225.3" y2="687.7" stroke="#000" stroke-width="1.1"/>
<line x1="1191.5" y1="692.3" x2="1225.3" y2="692.3" stroke="#000" stroke-width="1.1"/>
<line x1="1191.5" y1="696.9" x2="1225.3" y2="696.9" stroke="#000" stroke-width="1.1"/>
<line x1="1191.5" y1="701.5" x2="1225.3" y2="701.5" stroke="#000" stroke-width="1.1"/>
<line x1="1191.5" y1="706.1" x2="1225.3" y2="706.1" stroke="#000" stroke-width="1.1"/>
<line x1="1191.5" y1="710.7" x2="1225.3" y2="710.7" stroke="#000" stroke-width="1.1"/>
<line x1="1191.5" y1="715.3" x2="1225.3" y2="715.3" stroke="#000" stroke-width="1.1"/>
<line x1="1176.6" y1="726.3" x2="1276" y2="726.3" stroke="#000" stroke-width="1.2"/>
<rect x="1180" y="977.5" width="46.3" height="91.8" rx="3" fill="#fff" stroke="#000" stroke-width="1.2"/>
<rect x="1185" y="982.5" width="36.8" height="26.8" rx="2" fill="#fff" stroke="#000" stroke-width="1.2"/>
<circle cx="1203" cy="1004.5" r="2.4" fill="none" stroke="#000" stroke-width="1.1"/>
<rect x="1185" y="1014.5" width="36.8" height="9.3" rx="4.5" fill="#fff" stroke="#000" stroke-width="1.2"/>
<circle cx="1203" cy="1018.8" r="2.4" fill="none" stroke="#000" stroke-width="1.1"/>
<line x1="1188.8" y1="1027.5" x2="1188.8" y2="1064.5" stroke="#000" stroke-width="1.1"/>
<line x1="1192.5" y1="1027.5" x2="1192.5" y2="1064.5" stroke="#000" stroke-width="1.1"/>
<line x1="1196.3" y1="1027.5" x2="1196.3" y2="1064.5" stroke="#000" stroke-width="1.1"/>
<line x1="1200" y1="1027.5" x2="1200" y2="1064.5" stroke="#000" stroke-width="1.1"/>
<line x1="1203.8" y1="1027.5" x2="1203.8" y2="1064.5" stroke="#000" stroke-width="1.1"/>
<line x1="1207.5" y1="1027.5" x2="1207.5" y2="1064.5" stroke="#000" stroke-width="1.1"/>
<line x1="1211.3" y1="1027.5" x2="1211.3" y2="1064.5" stroke="#000" stroke-width="1.1"/>
<line x1="1215" y1="1027.5" x2="1215" y2="1064.5" stroke="#000" stroke-width="1.1"/>
<line x1="1218.8" y1="1027.5" x2="1218.8" y2="1064.5" stroke="#000" stroke-width="1.1"/>
<path d="M1231.3,895.8 V1096.3 H1312.5 A24,24 0 0 1 1336.3,1120.3 V1150.8" fill="none" stroke="#000" stroke-width="1.3"/>
<path d="M1404.5,895.8 V1081.3 A40,40 0 0 0 1458.8,1092.5" fill="none" stroke="#000" stroke-width="1.3"/>
<rect x="1408.8" y="933.3" width="46.2" height="46.2" fill="#fff" stroke="#000" stroke-width="1.2"/>
<circle cx="1422.5" cy="947" r="6.3" fill="none" stroke="#000" stroke-width="1.2"/>
<circle cx="1422.5" cy="947" r="2.2" fill="none" stroke="#000" stroke-width="1.1"/>
<circle cx="1440.5" cy="947" r="6.3" fill="none" stroke="#000" stroke-width="1.2"/>
<circle cx="1440.5" cy="947" r="2.2" fill="none" stroke="#000" stroke-width="1.1"/>
<circle cx="1422.5" cy="965" r="6.3" fill="none" stroke="#000" stroke-width="1.2"/>
<circle cx="1422.5" cy="965" r="2.2" fill="none" stroke="#000" stroke-width="1.1"/>
<circle cx="1440.5" cy="965" r="6.3" fill="none" stroke="#000" stroke-width="1.2"/>
<circle cx="1440.5" cy="965" r="2.2" fill="none" stroke="#000" stroke-width="1.1"/>
<circle cx="1230" cy="1203.8" r="23" fill="none" stroke="#000" stroke-width="1.3"/>
<text x="1230" y="1214.5" font-size="30" text-anchor="middle" stroke="#000" stroke-width="0.45" fill="#000">T</text>
<rect x="1176.3" y="1413.5" width="27.2" height="41.2" fill="#fff" stroke="#000" stroke-width="1.2"/>
<text x="1189.5" y="1440" font-size="17.5" text-anchor="middle" stroke="#000" stroke-width="0.45" fill="#000">B</text>
<rect x="1825.9" y="1288.3" width="47.4" height="65.1" fill="none" stroke="#000" stroke-width="1.4"/>
<line x1="1825.9" y1="1288.3" x2="1873.3" y2="1353.4" stroke="#000" stroke-width="1.4"/>
<line x1="1825.9" y1="1353.4" x2="1873.3" y2="1288.3" stroke="#000" stroke-width="1.4"/>
<path d="M1317.2,1492.6 L1331.7,1506.6 L1319.8,1506.6 L1319.8,1517.9 L1314.6,1517.9 L1314.6,1506.6 L1302.7,1506.6 Z" fill="none" stroke="#aaa" stroke-width="1.1"/>
<line x1="1428.5" y1="552.5" x2="1428.5" y2="532.6" stroke="#000" stroke-width="1.4"/>
<path d="M1428.5,516.6 L1433.1,532.6 L1423.9,532.6 Z" fill="#000"/>
<line x1="1212.5" y1="586.6" x2="1192.5" y2="586.6" stroke="#000" stroke-width="1.4"/>
<path d="M1176.5,586.6 L1192.5,582 L1192.5,591.2 Z" fill="#000"/>
<line x1="1504.7" y1="586.6" x2="1525.3" y2="586.6" stroke="#000" stroke-width="1.4"/>
<path d="M1541.3,586.6 L1525.3,591.2 L1525.3,582 Z" fill="#000"/>
<line x1="1428.5" y1="844.7" x2="1428.5" y2="865.3" stroke="#000" stroke-width="1.4"/>
<path d="M1428.5,881.3 L1423.9,865.3 L1433.1,865.3 Z" fill="#000"/>
<line x1="1273.3" y1="931.8" x2="1273.3" y2="911.8" stroke="#000" stroke-width="1.4"/>
<path d="M1273.3,895.8 L1277.9,911.8 L1268.7,911.8 Z" fill="#000"/>
<line x1="1213" y1="950" x2="1192.5" y2="950" stroke="#000" stroke-width="1.4"/>
<path d="M1176.5,950 L1192.5,945.4 L1192.5,954.6 Z" fill="#000"/>
<line x1="1428" y1="949.5" x2="1442.8" y2="949.5" stroke="#000" stroke-width="1.4"/>
<path d="M1458.8,949.5 L1442.8,954.1 L1442.8,944.9 Z" fill="#000"/>
<line x1="1273.3" y1="1113.8" x2="1273.3" y2="1134.8" stroke="#000" stroke-width="1.4"/>
<path d="M1273.3,1150.8 L1268.7,1134.8 L1277.9,1134.8 Z" fill="#000"/>
<line x1="1628.9" y1="932" x2="1628.9" y2="911.6" stroke="#000" stroke-width="1.4"/>
<path d="M1628.9,895.6 L1633.5,911.6 L1624.3,911.6 Z" fill="#000"/>
<line x1="1509.7" y1="950.7" x2="1489.3" y2="950.7" stroke="#000" stroke-width="1.4"/>
<path d="M1473.3,950.7 L1489.3,946.1 L1489.3,955.3 Z" fill="#000"/>
<line x1="1756.2" y1="950.7" x2="1776.6" y2="950.7" stroke="#000" stroke-width="1.4"/>
<path d="M1792.6,950.7 L1776.6,955.3 L1776.6,946.1 Z" fill="#000"/>
<line x1="1628.9" y1="1210" x2="1628.9" y2="1230" stroke="#000" stroke-width="1.4"/>
<path d="M1628.9,1246 L1624.3,1230 L1633.5,1230 Z" fill="#000"/>
<line x1="1806.7" y1="1551.8" x2="1806.7" y2="1532.5" stroke="#000" stroke-width="1.4"/>
<path d="M1806.7,1516.5 L1811.3,1532.5 L1802.1,1532.5 Z" fill="#000"/>
<line x1="1534.7" y1="1801.4" x2="1513.7" y2="1801.4" stroke="#000" stroke-width="1.4"/>
<path d="M1497.7,1801.4 L1513.7,1796.8 L1513.7,1806 Z" fill="#000"/>
<line x1="1821.9" y1="1801.4" x2="1842" y2="1801.4" stroke="#000" stroke-width="1.4"/>
<path d="M1858,1801.4 L1842,1806 L1842,1796.8 Z" fill="#000"/>
<line x1="1806.8" y1="2064" x2="1806.8" y2="2084.5" stroke="#000" stroke-width="1.4"/>
<path d="M1806.8,2100.5 L1802.2,2084.5 L1811.4,2084.5 Z" fill="#000"/>
<text x="1422" y="635.3" font-size="31.6" text-anchor="middle" stroke="#000" stroke-width="0.45" fill="#000">Dining Room</text>
<text x="1422" y="673.7" font-size="31.6" text-anchor="middle" stroke="#000" stroke-width="0.45" fill="#000">4.01 x 3.95</text>
<text x="1422" y="712.2" font-size="31.6" text-anchor="middle" stroke="#000" stroke-width="0.45" fill="#000">13'2 x 13'0</text>
<text x="1230.5" y="777.5" font-size="31.6" text-anchor="middle" stroke="#000" stroke-width="0.45" fill="#000">Utility</text>
<text x="1230.5" y="816" font-size="31.6" text-anchor="middle" stroke="#000" stroke-width="0.45" fill="#000">Room</text>
<text x="1322" y="995.8" font-size="31.6" text-anchor="middle" stroke="#000" stroke-width="0.45" fill="#000">Kitchen</text>
<text x="1322" y="1033" font-size="31.6" text-anchor="middle" stroke="#000" stroke-width="0.45" fill="#000">3.09 x 2.82</text>
<text x="1322" y="1071.3" font-size="31.6" text-anchor="middle" stroke="#000" stroke-width="0.45" fill="#000">10'2 x 9'3</text>
<text x="1639.8" y="989.7" font-size="31.6" text-anchor="middle" stroke="#000" stroke-width="0.45" fill="#000">Sitting Room</text>
<text x="1634.3" y="1028.9" font-size="31.6" text-anchor="middle" stroke="#000" stroke-width="0.45" fill="#000">3.84 x 3.56</text>
<text x="1634.3" y="1067.8" font-size="31.6" text-anchor="middle" stroke="#000" stroke-width="0.45" fill="#000">12'7 x 11'8</text>
<text x="1338.4" y="1392.4" font-size="31.6" text-anchor="middle" stroke="#000" stroke-width="0.45" fill="#000">Hall</text>
<text x="1316.6" y="1549.6" font-size="31.6" text-anchor="middle" stroke="#000" stroke-width="0.45" fill="#000">IN</text>
<text x="1309.5" y="1604.9" font-size="31.6" text-anchor="middle" stroke="#000" stroke-width="0.45" fill="#000">Porch</text>
<text x="1808.7" y="1457" font-size="35.6" text-anchor="middle" stroke="#000" stroke-width="0.45" fill="#000">Office</text>
<text x="1678" y="1777" font-size="31.6" text-anchor="middle" stroke="#000" stroke-width="0.45" fill="#000">Living Room</text>
<text x="1678" y="1816" font-size="31.6" text-anchor="middle" stroke="#000" stroke-width="0.45" fill="#000">6.40 x 3.97</text>
<text x="1678" y="1853.4" font-size="31.6" text-anchor="middle" stroke="#000" stroke-width="0.45" fill="#000">21'0 x 13'0</text>
<text x="1148" y="2163.2" font-size="45.2" text-anchor="start" font-weight="bold" fill="#000">Top Floor</text>
<rect x="2238.1" y="407.7" width="316.7" height="28.2" fill="#000"/>
<rect x="2238.1" y="407.7" width="15.2" height="498.9" fill="#000"/>
<rect x="2540.4" y="407.7" width="14.4" height="498.9" fill="#000"/>
<rect x="2238.1" y="782.3" width="139.4" height="14.5" fill="#000"/>
<rect x="2450.1" y="782.3" width="104.7" height="14.5" fill="#000"/>
<rect x="2238.1" y="878.3" width="316.7" height="28.3" fill="#000"/>
<rect x="2400.2" y="480.6" width="140.3" height="6" fill="#000"/>
<rect x="2401.2" y="555.1" width="139.3" height="6.4" fill="#000"/>
<line x1="2403.6" y1="486.6" x2="2403.6" y2="555.1" stroke="#000" stroke-width="1.3"/>
<line x1="2426.8" y1="486.6" x2="2426.8" y2="555.1" stroke="#000" stroke-width="1.3"/>
<line x1="2449.5" y1="486.6" x2="2449.5" y2="555.1" stroke="#000" stroke-width="1.3"/>
<line x1="2472.3" y1="486.6" x2="2472.3" y2="555.1" stroke="#000" stroke-width="1.3"/>
<line x1="2495.2" y1="486.6" x2="2495.2" y2="555.1" stroke="#000" stroke-width="1.3"/>
<line x1="2518" y1="486.6" x2="2518" y2="555.1" stroke="#000" stroke-width="1.3"/>
<line x1="2518" y1="555.1" x2="2540.4" y2="486.6" stroke="#000" stroke-width="1.3"/>
<rect x="2440" y="508.8" width="51.2" height="31.2" fill="none" stroke="#000" stroke-width="1.4"/>
<line x1="2440" y1="508.8" x2="2491.2" y2="540" stroke="#000" stroke-width="1.4"/>
<line x1="2440" y1="540" x2="2491.2" y2="508.8" stroke="#000" stroke-width="1.4"/>
<line x1="2398.6" y1="520.3" x2="2502" y2="520.3" stroke="#000" stroke-width="1.4"/>
<path d="M2518,520.3 L2502,524.9 L2502,515.7 Z" fill="#000"/>
<text x="2357" y="527.5" font-size="31.6" text-anchor="start" stroke="#000" stroke-width="0.45" fill="#000">Dn</text>
<rect x="2439.6" y="703.3" width="52.1" height="32.5" fill="none" stroke="#000" stroke-width="1.4"/>
<line x1="2439.6" y1="703.3" x2="2491.7" y2="735.8" stroke="#000" stroke-width="1.4"/>
<line x1="2439.6" y1="735.8" x2="2491.7" y2="703.3" stroke="#000" stroke-width="1.4"/>
<rect x="2377.5" y="709.1" width="4.8" height="74" fill="#fff" stroke="#000" stroke-width="1.2"/>
<path d="M2377.5,709.3 A73,73 0 0 1 2450.5,782.3" fill="none" stroke="#000" stroke-width="1.2"/>
<rect x="2253.3" y="828.4" width="3.9" height="17.9" fill="#fff" stroke="#000" stroke-width="1.2"/>
<ellipse cx="2277.5" cy="837.5" rx="20.8" ry="16.2" fill="none" stroke="#000" stroke-width="1.2"/>
<ellipse cx="2277.6" cy="837.5" rx="17.5" ry="13.3" fill="none" stroke="#000" stroke-width="1.2"/>
<rect x="2364.4" y="837.3" width="64.9" height="41" fill="#fff" stroke="#000" stroke-width="1.2"/>
<rect x="2369.5" y="841.7" width="54.7" height="28" fill="#fff" stroke="#000" stroke-width="1.2"/>
<circle cx="2396.8" cy="860.3" r="2.3" fill="none" stroke="#000" stroke-width="1.1"/>
<circle cx="2387.4" cy="874" r="2.3" fill="none" stroke="#000" stroke-width="1.1"/>
<circle cx="2405.9" cy="874" r="2.3" fill="none" stroke="#000" stroke-width="1.1"/>
<line x1="2467.2" y1="796.8" x2="2467.2" y2="878.3" stroke="#000" stroke-width="1.2"/>
<rect x="2471.5" y="800.7" width="64.9" height="73.8" rx="5" fill="#fff" stroke="#000" stroke-width="1.2"/>
<circle cx="2526.7" cy="865.1" r="2.5" fill="none" stroke="#000" stroke-width="1.1"/>
<line x1="2527" y1="837.3" x2="2527" y2="861" stroke="#000" stroke-width="1.1"/>
<line x1="2499.4" y1="865.1" x2="2523.3" y2="865.1" stroke="#000" stroke-width="1.1"/>
<line x1="2507" y1="845.1" x2="2522.8" y2="860.5" stroke="#000" stroke-width="1.1"/>
<line x1="2317.7" y1="472.5" x2="2317.7" y2="451.9" stroke="#000" stroke-width="1.4"/>
<path d="M2317.7,435.9 L2322.3,451.9 L2313.1,451.9 Z" fill="#000"/>
<line x1="2289.5" y1="604.4" x2="2269.3" y2="604.4" stroke="#000" stroke-width="1.4"/>
<path d="M2253.3,604.4 L2269.3,599.8 L2269.3,609 Z" fill="#000"/>
<line x1="2503.9" y1="604.4" x2="2524.4" y2="604.4" stroke="#000" stroke-width="1.4"/>
<path d="M2540.4,604.4 L2524.4,609 L2524.4,599.8 Z" fill="#000"/>
<line x1="2317.4" y1="745.5" x2="2317.4" y2="766.3" stroke="#000" stroke-width="1.4"/>
<path d="M2317.4,782.3 L2312.8,766.3 L2322,766.3 Z" fill="#000"/>
<text x="2402" y="597.4" font-size="28.7" text-anchor="middle" stroke="#000" stroke-width="0.45" fill="#000">Loft Room</text>
<text x="2399" y="634" font-size="31.6" text-anchor="middle" stroke="#000" stroke-width="0.45" fill="#000">3.80 x 3.15</text>
<text x="2398.7" y="673.3" font-size="31.6" text-anchor="middle" stroke="#000" stroke-width="0.45" fill="#000">12'6 x 10'4</text>
<text x="2230" y="960" font-size="44.6" text-anchor="start" font-weight="bold" fill="#000">Outbuilding First Floor</text>
<rect x="2225.1" y="1017.8" width="411.9" height="28" fill="#000"/>
<rect x="2718" y="1017.8" width="71.5" height="28" fill="#000"/>
<rect x="2870.2" y="1017.8" width="118.8" height="28" fill="#000"/>
<rect x="2225.1" y="1017.8" width="28.2" height="190.9" fill="#000"/>
<rect x="2225.1" y="1436.6" width="28.2" height="79.6" fill="#000"/>
<rect x="2225.1" y="1488.6" width="564.4" height="27.6" fill="#000"/>
<rect x="2870.2" y="1488.6" width="118.8" height="27.6" fill="#000"/>
<rect x="2960.3" y="1017.8" width="28.7" height="498.4" fill="#000"/>
<rect x="2759.3" y="1045.8" width="14.9" height="442.8" fill="#000"/>
<rect x="2225.1" y="1155.2" width="63.1" height="13.9" fill="#000"/>
<rect x="2356" y="1155.2" width="20.9" height="13.9" fill="#000"/>
<rect x="2362" y="1045.7" width="14.9" height="123.4" fill="#000"/>
<rect x="2377" y="1091.7" width="148.7" height="6" fill="#000"/>
<rect x="2377" y="1164.7" width="148.7" height="6.5" fill="#000"/>
<line x1="2408.6" y1="1097.7" x2="2408.6" y2="1164.7" stroke="#000" stroke-width="1.3"/>
<line x1="2431" y1="1097.7" x2="2431" y2="1164.7" stroke="#000" stroke-width="1.3"/>
<line x1="2454.2" y1="1097.7" x2="2454.2" y2="1164.7" stroke="#000" stroke-width="1.3"/>
<line x1="2477" y1="1097.7" x2="2477" y2="1164.7" stroke="#000" stroke-width="1.3"/>
<line x1="2499.5" y1="1097.7" x2="2499.5" y2="1164.7" stroke="#000" stroke-width="1.3"/>
<line x1="2522.7" y1="1097.7" x2="2522.7" y2="1164.7" stroke="#000" stroke-width="1.3"/>
<line x1="2385.8" y1="1097.7" x2="2408.6" y2="1164.7" stroke="#000" stroke-width="1.3"/>
<line x1="2527" y1="1130.4" x2="2424.6" y2="1130.4" stroke="#000" stroke-width="1.4"/>
<path d="M2408.6,1130.4 L2424.6,1125.8 L2424.6,1135 Z" fill="#000"/>
<text x="2527" y="1143.3" font-size="31.6" text-anchor="start" stroke="#000" stroke-width="0.45" fill="#000">Up</text>
<line x1="2506.6" y1="1082.6" x2="2506.6" y2="1061.8" stroke="#000" stroke-width="1.4"/>
<path d="M2506.6,1045.8 L2511.2,1061.8 L2502,1061.8 Z" fill="#000"/>
<rect x="2287.6" y="1169.1" width="4.9" height="68.4" fill="#fff" stroke="#000" stroke-width="1.2"/>
<path d="M2290,1237.1 A68,68 0 0 0 2358,1169.1" fill="none" stroke="#000" stroke-width="1.2"/>
<rect x="2120.2" y="1213" width="109.8" height="4.3" fill="#fff" stroke="#000" stroke-width="1.2"/>
<rect x="2230" y="1208.7" width="9" height="4.3" fill="#fff" stroke="#000" stroke-width="1.2"/>
<path d="M2120.2,1217.3 A109.8,105.1 0 0 0 2230,1322.4" fill="none" stroke="#000" stroke-width="1.2"/>
<rect x="2120.2" y="1427.8" width="109.8" height="4.4" fill="#fff" stroke="#000" stroke-width="1.2"/>
<rect x="2230" y="1432.2" width="9" height="4.4" fill="#fff" stroke="#000" stroke-width="1.2"/>
<path d="M2120.2,1432.2 A109.8,109.8 0 0 1 2230,1322.4" fill="none" stroke="#000" stroke-width="1.2"/>
<rect x="2709.3" y="950.2" width="4.6" height="73.3" fill="#fff" stroke="#000" stroke-width="1.2"/>
<rect x="2713.9" y="1023.5" width="4.1" height="8.5" fill="#fff" stroke="#000" stroke-width="1.2"/>
<rect x="2637" y="1023.5" width="4.2" height="8.5" fill="#fff" stroke="#000" stroke-width="1.2"/>
<path d="M2640.6,1022 A71,71 0 0 1 2711.6,951" fill="none" stroke="#000" stroke-width="1.2"/>
<path d="M2866.5,1027 L2869.5,1023.5 L2815.5,970 L2812.2,973.3 Z" fill="#fff" stroke="#000" stroke-width="1.2"/>
<rect x="2789.5" y="1023.5" width="4.1" height="8.5" fill="#fff" stroke="#000" stroke-width="1.2"/>
<rect x="2866.3" y="1023.5" width="3.9" height="8.5" fill="#fff" stroke="#000" stroke-width="1.2"/>
<path d="M2793.5,1024 A75,75 0 0 1 2815.5,971" fill="none" stroke="#000" stroke-width="1.2"/>
<rect x="2793.7" y="1429" width="4.5" height="73.5" fill="#fff" stroke="#000" stroke-width="1.2"/>
<path d="M2796,1430.5 A72,72 0 0 1 2868,1502.5" fill="none" stroke="#000" stroke-width="1.2"/>
<rect x="2789.5" y="1502.5" width="4.1" height="9.1" fill="#fff" stroke="#000" stroke-width="1.2"/>
<rect x="2866.3" y="1502.5" width="3.9" height="9.1" fill="#fff" stroke="#000" stroke-width="1.2"/>
<rect x="2298.5" y="1045.7" width="18.8" height="5.3" fill="#fff" stroke="#000" stroke-width="1.2"/>
<ellipse cx="2307.4" cy="1071.3" rx="16.2" ry="20" fill="none" stroke="#000" stroke-width="1.2"/>
<ellipse cx="2307.4" cy="1071.3" rx="12.7" ry="16.5" fill="none" stroke="#000" stroke-width="1.2"/>
<path d="M2253.3,1092 A35,23.2 0 0 1 2253.3,1138.4" fill="none" stroke="#000" stroke-width="1.2"/>
<path d="M2263.8,1096.3 H2268 A17.6,18.55 0 0 1 2268,1133.4 H2263.8 Z" fill="none" stroke="#000" stroke-width="1.2"/>
<circle cx="2256.8" cy="1105.6" r="2.3" fill="none" stroke="#000" stroke-width="1.1"/>
<circle cx="2256.8" cy="1123.5" r="2.3" fill="none" stroke="#000" stroke-width="1.1"/>
<circle cx="2270.7" cy="1115" r="2.3" fill="none" stroke="#000" stroke-width="1.1"/>
<text x="2296.5" y="1123.5" font-size="31.6" text-anchor="start" stroke="#000" stroke-width="0.45" fill="#000">Wc</text>
<line x1="2290" y1="1263.9" x2="2269.3" y2="1263.9" stroke="#000" stroke-width="1.4"/>
<path d="M2253.3,1263.9 L2269.3,1259.3 L2269.3,1268.5 Z" fill="#000"/>
<line x1="2253.3" y1="1259.5" x2="2253.3" y2="1268.3" stroke="#000" stroke-width="1.3"/>
<line x1="2723" y1="1264" x2="2743.3" y2="1264" stroke="#000" stroke-width="1.4"/>
<path d="M2759.3,1264 L2743.3,1268.6 L2743.3,1259.4 Z" fill="#000"/>
<line x1="2506.8" y1="1452" x2="2506.8" y2="1472.6" stroke="#000" stroke-width="1.4"/>
<path d="M2506.8,1488.6 L2502.2,1472.6 L2511.4,1472.6 Z" fill="#000"/>
<text x="2509" y="1256.7" font-size="31.6" text-anchor="middle" stroke="#000" stroke-width="0.45" fill="#000">Garage</text>
<text x="2509" y="1294.5" font-size="31.6" text-anchor="middle" stroke="#000" stroke-width="0.45" fill="#000">5.56 x 4.89</text>
<text x="2509.5" y="1332.3" font-size="31.6" text-anchor="middle" stroke="#000" stroke-width="0.45" fill="#000">18'3 x 16'1</text>
<text x="2867" y="1270" font-size="31.6" text-anchor="middle" stroke="#000" stroke-width="0.45" fill="#000">Store</text>
<text x="2222.5" y="1585.6" font-size="44.8" text-anchor="start" font-weight="bold" fill="#000">Outbuilding Ground Floor</text>
<text x="2222.5" y="1656.5" font-size="32.2" text-anchor="start" stroke="#000" stroke-width="0.45" fill="#000">(Not Shown In Actual Location / Orientation)</text>
</svg></body></html>
